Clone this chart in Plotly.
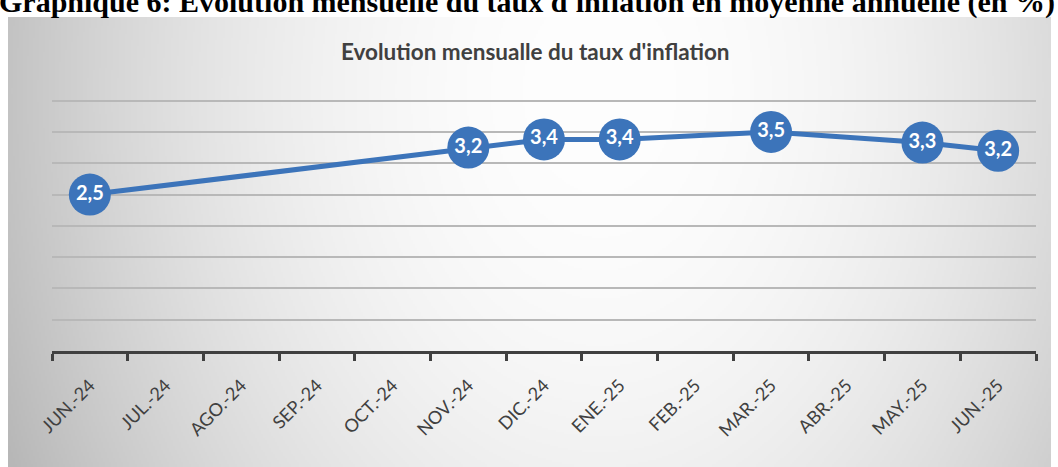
import base64
import struct
import zlib

import numpy as np
import plotly.graph_objects as go

# ---------------- data ----------------
categories = ["JUN.-24", "JUL.-24", "AGO.-24", "SEP.-24", "OCT.-24", "NOV.-24", "DIC.-24",
              "ENE.-25", "FEB.-25", "MAR.-25", "ABR.-25", "MAY.-25", "JUN.-25"]
months = ["JUN.-24", "NOV.-24", "DIC.-24", "ENE.-25", "MAR.-25", "MAY.-25", "JUN.-25"]
inflation = [2.5, 3.25, 3.38, 3.38, 3.5, 3.33, 3.2]
labels = ["2,5", "3,2", "3,4", "3,4", "3,5", "3,3", "3,2"]
y_grid = [0.5, 1.0, 1.5, 2.0, 2.5, 3.0, 3.5, 4.0]

page_title = "Graphique 6: Evolution mensuelle du taux d'inflation en moyenne annuelle (en %)"
chart_title = "Evolution mensualle du taux d'inflation"

# ---------------- geometry ----------------
W, H = 1058, 467
L, R, T, B = 52, 1036, 70, 351          # plot area (pixels)
pw, ph = R - L, B - T


def px_x(px):
    return (px - L) / pw


def px_y(py):
    return (B - py) / ph


# ---------------- radial gradient background (PNG data URI) ----------------
box_l, box_t, box_r, box_b = 8, 17, 1051, 467
gw, gh = (box_r - box_l) // 2, (box_b - box_t) // 2
xs = np.linspace(box_l, box_r, gw)
ys = np.linspace(box_t, box_b, gh)
X, Y = np.meshgrid(xs, ys)
d = np.sqrt(((X - 600) / 590.0) ** 2 + ((Y - 90) / 800.0) ** 2)
d = np.clip(d, 0, 1.1)
val = 254 - 58 * d ** 2.0
img = np.clip(val, 0, 255).astype(np.uint8)
rgb = np.stack([img, img, img], axis=-1)


def to_png(a):
    h, w, _ = a.shape
    raw = b"".join(b"\x00" + a[i].tobytes() for i in range(h))

    def chunk(tag, data):
        c = struct.pack(">I", len(data)) + tag + data
        return c + struct.pack(">I", zlib.crc32(tag + data) & 0xFFFFFFFF)

    return (b"\x89PNG\r\n\x1a\n"
            + chunk(b"IHDR", struct.pack(">IIBBBBB", w, h, 8, 2, 0, 0, 0))
            + chunk(b"IDAT", zlib.compress(raw, 9))
            + chunk(b"IEND", b""))


bg_uri = "data:image/png;base64," + base64.b64encode(to_png(rgb)).decode()

# ---------------- figure ----------------
blue = "#3c74ba"
fig = go.Figure()
fig.add_trace(go.Scatter(
    x=months, y=inflation,
    mode="lines+markers+text",
    line=dict(color=blue, width=5),
    marker=dict(size=42, color=blue),
    text=labels, textposition="middle center",
    textfont=dict(color="white", size=20, family="Lato", weight="bold"),
    cliponaxis=False, hoverinfo="skip", showlegend=False,
))

fig.update_layout(
    width=W, height=H,
    margin=dict(l=L, r=W - R, t=T, b=H - B, autoexpand=False),
    paper_bgcolor="white",
    plot_bgcolor="rgba(0,0,0,0)",
    images=[dict(source=bg_uri, xref="paper", yref="paper",
                 x=px_x(box_l), y=px_y(box_t),
                 sizex=(box_r - box_l) / pw, sizey=(box_b - box_t) / ph,
                 xanchor="left", yanchor="top", sizing="stretch", layer="below")],
    xaxis=dict(type="category", categoryorder="array", categoryarray=categories,
               range=[-0.5, len(categories) - 0.5], tickson="boundaries",
               ticks="outside", ticklen=7, tickwidth=3, tickcolor="#404040",
               showline=True, linewidth=3, linecolor="#404040",
               showgrid=False, tickangle=-45, automargin=False,
               ticklabelstandoff=14,
               tickfont=dict(family="Lato", size=18, color="#404040")),
    yaxis=dict(range=[0, 4.49], tickvals=y_grid, showticklabels=False,
               showgrid=True, gridcolor="#b8b8b8", gridwidth=2,
               zeroline=False, showline=False, automargin=False),
    annotations=[
        dict(text=chart_title, xref="paper", yref="paper",
             x=px_x(535), y=px_y(51), xanchor="center", yanchor="middle",
             showarrow=False,
             font=dict(family="Lato", size=22.5, color="#404040", weight="bold")),
        dict(text="<b>" + page_title + "</b>", xref="paper", yref="paper",
             x=px_x(527), y=px_y(21), xanchor="center", yanchor="bottom",
             showarrow=False,
             font=dict(family="Liberation Serif", size=30, color="black")),
    ],
)

fig.write_html(
    "out.html",
    config={"displayModeBar": False},
    post_script="document.body.style.margin='0';document.body.style.overflow='hidden';",
)
